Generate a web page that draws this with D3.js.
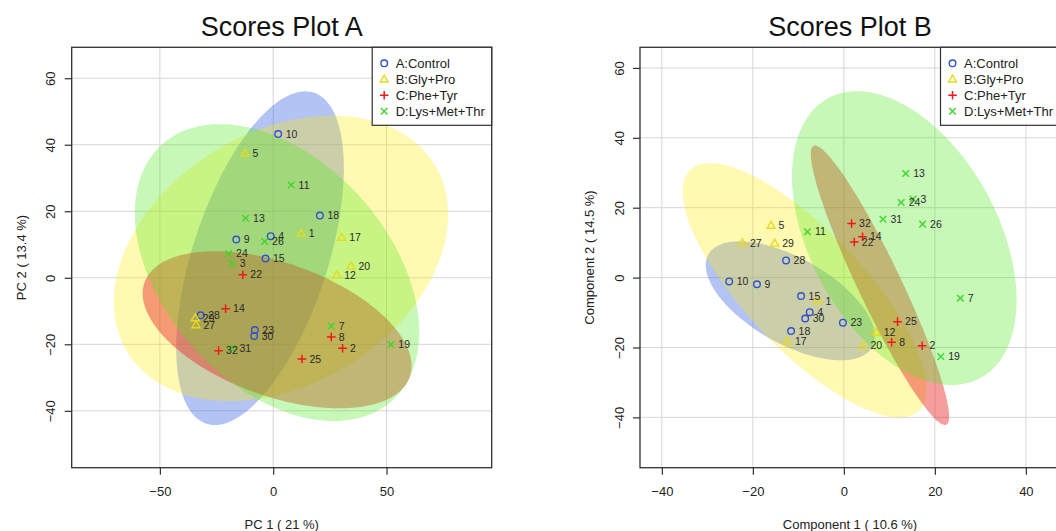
<!DOCTYPE html>
<html>
<head>
<meta charset="utf-8">
<script src="https://cdn.jsdelivr.net/npm/d3@7"></script>
<style>
  html, body { margin: 0; padding: 0; background: #fff; }
  svg { display: block; font-family: "Liberation Sans", Arial, Helvetica, sans-serif; }
</style>
</head>
<body>
<svg id="chart" width="1056" height="531"></svg>
<script>
// Group names and sample identifiers
const groupNames = ["A:Control", "B:Gly+Pro", "C:Phe+Tyr", "D:Lys+Met+Thr"];
const sampleIds = [1, 2, 3, 4, 5, 7, 8, 9, 10, 11, 12, 13, 14, 15, 17, 18, 19, 20, 22, 23, 24, 25, 26, 27, 28, 29, 30, 31, 32];
const sampleGroup = [1, 2, 3, 0, 1, 3, 2, 0, 0, 3, 1, 3, 2, 0, 1, 0, 3, 1, 2, 0, 3, 2, 3, 1, 0, 1, 0, 3, 2];

// PCA scores (PC1, PC2)
const pcaPC1 = [12.4, 30.6, -18.1, -1.1, -12.4, 25.6, 25.6, -16.3, 2.2, 7.9, 28.0, -12.2, -21.0, -3.4, 30.2, 20.6, 51.9, 34.3, -13.4, -8.1, -19.7, 12.7, -3.8, -34.1, -32.0, -34.4, -8.4, -18.2, -24.1];
const pcaPC2 = [13.3, -21.2, 4.3, 12.5, 37.4, -14.5, -17.8, 11.5, 43.2, 27.9, 0.8, 17.9, -9.3, 5.8, 12.1, 18.7, -20.1, 3.5, 0.9, -15.7, 7.2, -24.4, 10.9, -14.2, -11.3, -12.1, -17.5, -21.1, -21.9];

// PLS-DA scores (Component 1, Component 2)
const plsC1 = [-5.7, 17.2, 15.2, -7.5, -16.0, 25.6, 10.5, -19.1, -25.2, -8.0, 7.1, 13.6, 4.1, -9.4, -12.4, -11.6, 21.3, 4.2, 2.3, -0.2, 12.6, 11.8, 17.3, -22.3, -12.7, -15.2, -8.5, 8.6, 1.7];
const plsC2 = [-6.7, -19.5, 22.5, -9.9, 14.9, -5.9, -18.5, -1.9, -1.1, 13.1, -15.7, 29.8, 11.7, -5.3, -18.2, -15.3, -22.6, -19.5, 10.2, -12.9, 21.5, -12.6, 15.3, 9.9, 4.9, 9.8, -11.7, 16.7, 15.5];

// Axis ticks
const ticksA_x = [-50, 0, 50];
const ticksA_y = [-40, -20, 0, 20, 40, 60];
const ticksB_x = [-40, -20, 0, 20, 40];
const ticksB_y = [-40, -20, 0, 20, 40, 60];

// Styling
const pointColors = ["#3050d4", "#e6da1e", "#f01818", "#3fd62c"];
const fillColors = ["rgb(65,105,225)", "rgb(255,236,0)", "rgb(232,40,40)", "rgb(80,232,30)"];
const fillOpacity = [0.4, 0.3, 0.45, 0.32];

const svg = d3.select("#chart");

// 95% confidence ellipse of a group (t = sqrt(qchisq(0.95, 2)))
function confEllipse(xs, ys) {
  const n = xs.length;
  const mx = d3.mean(xs), my = d3.mean(ys);
  const sx = Math.sqrt(d3.sum(xs, v => (v - mx) ** 2) / (n - 1));
  const sy = Math.sqrt(d3.sum(ys, v => (v - my) ** 2) / (n - 1));
  const cov = d3.sum(xs.map((v, i) => (v - mx) * (ys[i] - my))) / (n - 1);
  const r = cov / (sx * sy);
  const d = Math.acos(r);
  const t = Math.sqrt(-2 * Math.log(0.05));
  const pts = [];
  for (let i = 0; i < 200; i++) {
    const a = 2 * Math.PI * i / 200;
    pts.push([mx + t * sx * Math.cos(a + d / 2), my + t * sy * Math.cos(a - d / 2)]);
  }
  return pts;
}

function drawPanel(cfg) {
  const { left, right, top, bottom, xDomain, yDomain, xTicks, yTicks, xs, ys, title, xLabel, yLabel, id } = cfg;
  const x = d3.scaleLinear().domain(xDomain).range([left, right]);
  const y = d3.scaleLinear().domain(yDomain).range([bottom, top]);
  const g = svg.append("g");

  g.append("clipPath").attr("id", "clip" + id)
    .append("rect").attr("x", left).attr("y", top).attr("width", right - left).attr("height", bottom - top);

  // grid
  const grid = g.append("g").attr("stroke", "#d6d6d6").attr("stroke-width", 1);
  xTicks.forEach(v => grid.append("line").attr("x1", x(v)).attr("x2", x(v)).attr("y1", top).attr("y2", bottom));
  yTicks.forEach(v => grid.append("line").attr("y1", y(v)).attr("y2", y(v)).attr("x1", left).attr("x2", right));

  // ellipses
  const line = d3.line().x(p => x(p[0])).y(p => y(p[1])).curve(d3.curveLinearClosed);
  const eg = g.append("g").attr("clip-path", `url(#clip${id})`);
  groupNames.forEach((name, gi) => {
    const idx = sampleGroup.map((s, i) => s === gi ? i : -1).filter(i => i >= 0);
    const pts = confEllipse(idx.map(i => xs[i]), idx.map(i => ys[i]));
    eg.append("path").attr("d", line(pts))
      .attr("fill", fillColors[gi]).attr("fill-opacity", fillOpacity[gi]).attr("stroke", "none");
  });

  // points and labels
  const pg = g.append("g").attr("clip-path", `url(#clip${id})`);
  sampleIds.forEach((sid, i) => {
    const px = x(xs[i]), py = y(ys[i]);
    drawSymbol(pg, sampleGroup[i], px, py);
    pg.append("text").attr("x", px + 7.5).attr("y", py + 3.6)
      .attr("font-size", 10.5).attr("fill", "#2a2a2a").text(sid);
  });

  // frame
  g.append("rect").attr("x", left).attr("y", top).attr("width", right - left).attr("height", bottom - top)
    .attr("fill", "none").attr("stroke", "#303030").attr("stroke-width", 1.3);

  // x axis
  const xa = g.append("g").attr("transform", `translate(0,${bottom})`)
    .call(d3.axisBottom(x).tickValues(xTicks).tickSize(7).tickPadding(12).tickFormat(d3.format("d")));
  xa.select(".domain").remove();
  xa.selectAll("line").attr("stroke", "#303030").attr("stroke-width", 1.2);
  xa.selectAll("text").attr("font-size", 13).attr("fill", "#222").attr("font-family", null);

  // y axis with vertical labels
  const ya = g.append("g").attr("transform", `translate(${left},0)`)
    .call(d3.axisLeft(y).tickValues(yTicks).tickSize(7).tickFormat(d3.format("d")));
  ya.select(".domain").remove();
  ya.selectAll("line").attr("stroke", "#303030").attr("stroke-width", 1.2);
  ya.selectAll("text").attr("font-size", 13).attr("fill", "#222").attr("font-family", null)
    .attr("x", 0).attr("dy", null).attr("text-anchor", "middle")
    .attr("transform", "translate(-21,0) rotate(-90)").attr("y", 4.5);

  // titles
  const cx = (left + right) / 2;
  g.append("text").attr("x", cx).attr("y", 36).attr("text-anchor", "middle")
    .attr("font-size", 27).attr("fill", "#111").text(title);
  g.append("text").attr("x", cx).attr("y", 529).attr("text-anchor", "middle")
    .attr("font-size", 13).attr("fill", "#222").text(xLabel);
  g.append("text").attr("transform", `translate(${left - 46},${(top + bottom) / 2}) rotate(-90)`)
    .attr("text-anchor", "middle").attr("font-size", 13).attr("fill", "#222").text(yLabel);

  // legend
  const lw = 119.5, lh = 78;
  const lg = g.append("g").attr("transform", `translate(${right - lw},${top})`);
  lg.append("rect").attr("width", lw).attr("height", lh).attr("fill", "#fff").attr("stroke", "#303030").attr("stroke-width", 1.2);
  groupNames.forEach((name, gi) => {
    const yy = 16 + gi * 16;
    drawSymbol(lg, gi, 12, yy);
    lg.append("text").attr("x", 23.5).attr("y", yy + 4.6).attr("font-size", 13).attr("fill", "#222").text(name);
  });
}

function drawSymbol(sel, gi, px, py) {
  const c = pointColors[gi];
  if (gi === 0) {
    sel.append("circle").attr("cx", px).attr("cy", py).attr("r", 3.3)
      .attr("fill", "none").attr("stroke", c).attr("stroke-width", 1.4);
  } else if (gi === 1) {
    const s = 4.2;
    sel.append("path").attr("d", `M${px},${py - s}L${px + s * 0.95},${py + s * 0.65}L${px - s * 0.95},${py + s * 0.65}Z`)
      .attr("fill", "none").attr("stroke", c).attr("stroke-width", 1.4);
  } else if (gi === 2) {
    const s = 4.3;
    sel.append("path").attr("d", `M${px - s},${py}H${px + s}M${px},${py - s}V${py + s}`)
      .attr("stroke", c).attr("stroke-width", 1.5);
  } else {
    const s = 3.3;
    sel.append("path").attr("d", `M${px - s},${py - s}L${px + s},${py + s}M${px - s},${py + s}L${px + s},${py - s}`)
      .attr("stroke", c).attr("stroke-width", 1.4);
  }
}

drawPanel({
  id: "A", left: 71.7, right: 491.7, top: 47.3, bottom: 467.7,
  xDomain: [-88.9, 96.4], yDomain: [-57.1, 69.3],
  xTicks: ticksA_x, yTicks: ticksA_y,
  xs: pcaPC1, ys: pcaPC2,
  title: "Scores Plot A", xLabel: "PC 1 ( 21 %)", yLabel: "PC 2 ( 13.4 %)"
});

drawPanel({
  id: "B", left: 640, right: 1060, top: 47.3, bottom: 467.7,
  xDomain: [-44.8, 47.5], yDomain: [-54.4, 65.9],
  xTicks: ticksB_x, yTicks: ticksB_y,
  xs: plsC1, ys: plsC2,
  title: "Scores Plot B", xLabel: "Component 1 ( 10.6 %)", yLabel: "Component 2 ( 14.5 %)"
});
</script>
</body>
</html>
